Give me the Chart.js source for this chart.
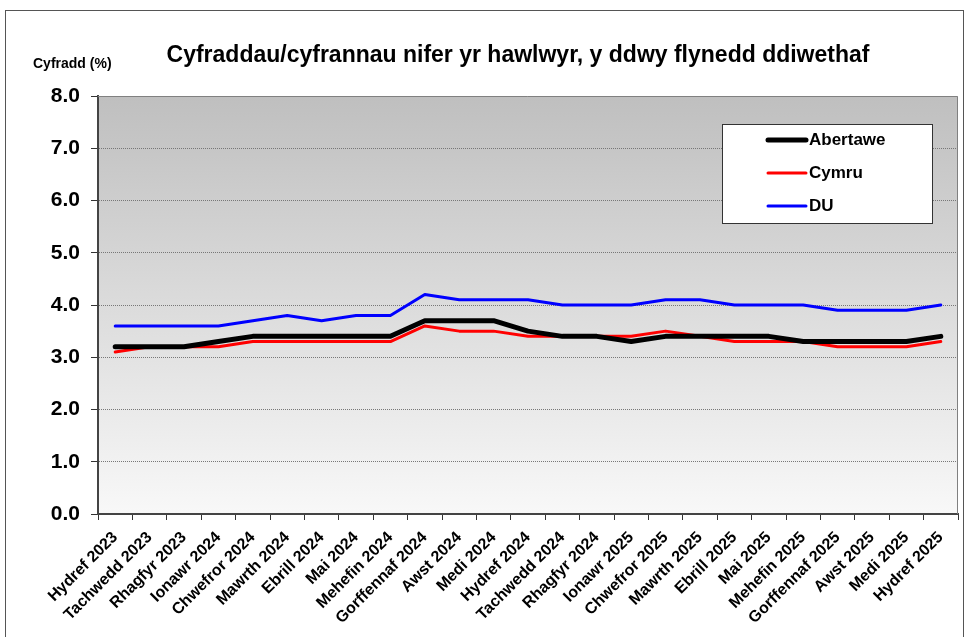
<!DOCTYPE html>
<html>
<head>
<meta charset="utf-8">
<script src="https://cdn.jsdelivr.net/npm/chart.js@4"></script>
<style>
  html, body { margin: 0; padding: 0; background: #fff; }
  #wrap { width: 969px; height: 637px; position: relative; }
</style>
</head>
<body>
<div id="wrap"><canvas id="chart" width="969" height="637"></canvas></div>
<script>
// Categories (months)
const months = [
    'Hydref 2023', 'Tachwedd 2023', 'Rhagfyr 2023', 'Ionawr 2024', 'Chwefror 2024',
    'Mawrth 2024', 'Ebrill 2024', 'Mai 2024', 'Mehefin 2024', 'Gorffennaf 2024',
    'Awst 2024', 'Medi 2024', 'Hydref 2024', 'Tachwedd 2024', 'Rhagfyr 2024',
    'Ionawr 2025', 'Chwefror 2025', 'Mawrth 2025', 'Ebrill 2025', 'Mai 2025',
    'Mehefin 2025', 'Gorffennaf 2025', 'Awst 2025', 'Medi 2025', 'Hydref 2025'
];

// Series values (%)
const abertawe = [3.2, 3.2, 3.2, 3.3, 3.4, 3.4, 3.4, 3.4, 3.4, 3.7, 3.7, 3.7, 3.5, 3.4, 3.4, 3.3, 3.4, 3.4, 3.4, 3.4, 3.3, 3.3, 3.3, 3.3, 3.4];
const cymru    = [3.1, 3.2, 3.2, 3.2, 3.3, 3.3, 3.3, 3.3, 3.3, 3.6, 3.5, 3.5, 3.4, 3.4, 3.4, 3.4, 3.5, 3.4, 3.3, 3.3, 3.3, 3.2, 3.2, 3.2, 3.3];
const du       = [3.6, 3.6, 3.6, 3.6, 3.7, 3.8, 3.7, 3.8, 3.8, 4.2, 4.1, 4.1, 4.1, 4.0, 4.0, 4.0, 4.1, 4.1, 4.0, 4.0, 4.0, 3.9, 3.9, 3.9, 4.0];

const chartTitle = 'Cyfraddau/cyfrannau nifer yr hawlwyr, y ddwy flynedd ddiwethaf';
const yAxisTitle = 'Cyfradd (%)';

const FONT = "'Liberation Sans', Arial, sans-serif";

// Fond, cadre, titre et légende dessinés à la main
const decorPlugin = {
    id: 'decor',
    beforeDraw(chart) {
        const { ctx, chartArea: a } = chart;
        ctx.save();
        ctx.fillStyle = '#fff';
        ctx.fillRect(0, 0, chart.width, chart.height);

        // cadre extérieur
        ctx.strokeStyle = '#555';
        ctx.lineWidth = 1;
        ctx.strokeRect(5.5, 10.5, 958, 640);

        // dégradé de la zone de tracé
        const g = ctx.createLinearGradient(0, a.top, 0, a.bottom);
        g.addColorStop(0, '#bfbfbf');
        g.addColorStop(1, '#f8f8f8');
        ctx.fillStyle = g;
        ctx.fillRect(a.left, a.top, a.right - a.left, a.bottom - a.top);

        // titres
        ctx.fillStyle = '#000';
        ctx.textBaseline = 'middle';
        ctx.textAlign = 'center';
        ctx.font = 'bold 23px ' + FONT;
        ctx.fillText(chartTitle, 518, 56);
        ctx.textAlign = 'left';
        ctx.font = 'bold 14px ' + FONT;
        ctx.fillText(yAxisTitle, 33, 64);
        ctx.restore();
    },
    afterDraw(chart) {
        const { ctx, chartArea: a } = chart;
        ctx.save();
        // bord haut et droit de la zone de tracé
        ctx.strokeStyle = '#808080';
        ctx.lineWidth = 1;
        ctx.beginPath();
        ctx.moveTo(a.left, a.top + 0.5);
        ctx.lineTo(a.right - 0.5, a.top + 0.5);
        ctx.lineTo(a.right - 0.5, a.bottom);
        ctx.stroke();

        // légende
        const bx = 722, by = 124, bw = 210, bh = 99;
        ctx.fillStyle = '#fff';
        ctx.fillRect(bx, by, bw, bh);
        ctx.strokeStyle = '#333';
        ctx.strokeRect(bx + 0.5, by + 0.5, bw, bh);
        ctx.font = 'bold 17px ' + FONT;
        ctx.textBaseline = 'middle';
        ctx.textAlign = 'left';
        chart.data.datasets.forEach((ds, i) => {
            const y = by + 16 + i * 33;
            ctx.strokeStyle = ds.borderColor;
            ctx.lineWidth = ds.borderWidth;
            ctx.lineCap = 'round';
            ctx.beginPath();
            ctx.moveTo(768, y);
            ctx.lineTo(806, y);
            ctx.stroke();
            ctx.fillStyle = '#000';
            ctx.fillText(ds.label, 809, y);
        });
        ctx.restore();
    }
};

const ctx = document.getElementById('chart').getContext('2d');

new Chart(ctx, {
    type: 'line',
    data: {
        labels: months,
        datasets: [
            { label: 'Abertawe', data: abertawe, borderColor: '#000000', borderWidth: 5 },
            { label: 'Cymru', data: cymru, borderColor: '#ff0000', borderWidth: 3 },
            { label: 'DU', data: du, borderColor: '#0000ff', borderWidth: 3 }
        ]
    },
    options: {
        responsive: false,
        animation: false,
        layout: {
            padding: { top: 96, right: 11, left: 0, bottom: 0 }
        },
        elements: {
            point: { radius: 0 },
            line: { tension: 0, borderJoinStyle: 'round', borderCapStyle: 'round' }
        },
        plugins: {
            legend: { display: false },
            tooltip: { enabled: false }
        },
        scales: {
            x: {
                offset: true,
                afterFit(scale) { scale.height = 123; },
                grid: {
                    offset: true,
                    drawOnChartArea: false,
                    drawTicks: true,
                    tickLength: 6,
                    tickColor: '#333',
                    tickWidth: 1
                },
                border: { display: true, color: '#444', width: 2 },
                ticks: {
                    autoSkip: false,
                    minRotation: 45,
                    maxRotation: 45,
                    color: '#000',
                    padding: 8,
                    font: { family: FONT, size: 16, weight: 'bold' }
                }
            },
            y: {
                min: 0,
                max: 8,
                afterFit(scale) { scale.width = 98; },
                grid: {
                    color: (c) => (c.tick && c.tick.value > 0 && c.tick.value < 8) ? '#777' : 'rgba(0,0,0,0)',
                    lineWidth: 1,
                    drawTicks: true,
                    tickLength: 7,
                    tickColor: '#333',
                    tickBorderDash: [],
                    tickWidth: 1
                },
                border: { display: true, color: '#444', width: 2, dash: [1, 1] },
                ticks: {
                    stepSize: 1,
                    color: '#000',
                    padding: 11,
                    font: { family: FONT, size: 21, weight: 'bold' },
                    callback: (v) => v.toFixed(1)
                }
            }
        }
    },
    plugins: [decorPlugin]
});
</script>
</body>
</html>
